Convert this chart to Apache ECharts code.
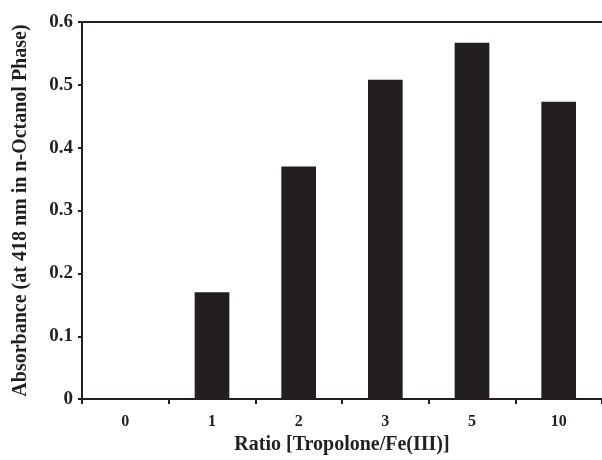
<!DOCTYPE html>
<html>
<head>
<meta charset="utf-8">
<script src="https://cdn.jsdelivr.net/npm/echarts@6/dist/echarts.min.js"></script>
<style>
    html, body { margin: 0; padding: 0; background: #fff; }
    #chart { width: 602px; height: 460px; }
</style>
</head>
<body>
<div id="chart"></div>
<script>
// 横轴类别（配体/Fe(III) 比例）
const ratios = ['0', '1', '2', '3', '5', '10'];
// 吸光度 (418 nm, 正辛醇相)
const absorbance = [0, 0.17, 0.37, 0.508, 0.567, 0.473];
// 纵轴刻度
const yMin = 0;
const yMax = 0.6;
const yStep = 0.1;

const ink = '#231f20';
const serif = '"Liberation Serif", "Times New Roman", serif';

const myChart = echarts.init(document.getElementById('chart'));
myChart.setOption({
    animation: false,
    textStyle: { fontFamily: serif, color: ink },
    grid: { left: 82, right: 0, top: 22, bottom: 58 },
    xAxis: [
        {
            type: 'category',
            data: ratios,
            boundaryGap: true,
            name: 'Ratio [Tropolone/Fe(III)]',
            nameLocation: 'middle',
            nameGap: 35,
            nameTextStyle: { fontFamily: serif, fontWeight: 'bold', fontSize: 20, color: ink },
            axisLine: { lineStyle: { color: ink, width: 2 } },
            axisTick: { show: true, length: 5, lineStyle: { color: ink, width: 2 } },
            axisLabel: { margin: 15, fontFamily: serif, fontWeight: 'bold', fontSize: 16, color: ink }
        },
        {
            // 顶部边框线
            type: 'category',
            position: 'top',
            data: ratios,
            axisLine: { lineStyle: { color: ink, width: 2 } },
            axisTick: { show: false },
            axisLabel: { show: false }
        }
    ],
    yAxis: {
        type: 'value',
        min: yMin,
        max: yMax,
        interval: yStep,
        name: 'Absorbance (at 418 nm in n-Octanol Phase)',
        nameLocation: 'middle',
        nameGap: 51,
        nameTextStyle: { fontFamily: serif, fontWeight: 'bold', fontSize: 20, color: ink },
        axisLine: { show: true, lineStyle: { color: ink, width: 2 } },
        axisTick: { show: true, length: 4, lineStyle: { color: ink, width: 2 } },
        axisLabel: { margin: 9, fontFamily: serif, fontWeight: 'bold', fontSize: 19, color: ink },
        splitLine: { show: false }
    },
    series: [
        {
            type: 'bar',
            data: absorbance,
            barWidth: '40%',
            itemStyle: { color: ink }
        }
    ]
});
</script>
</body>
</html>
